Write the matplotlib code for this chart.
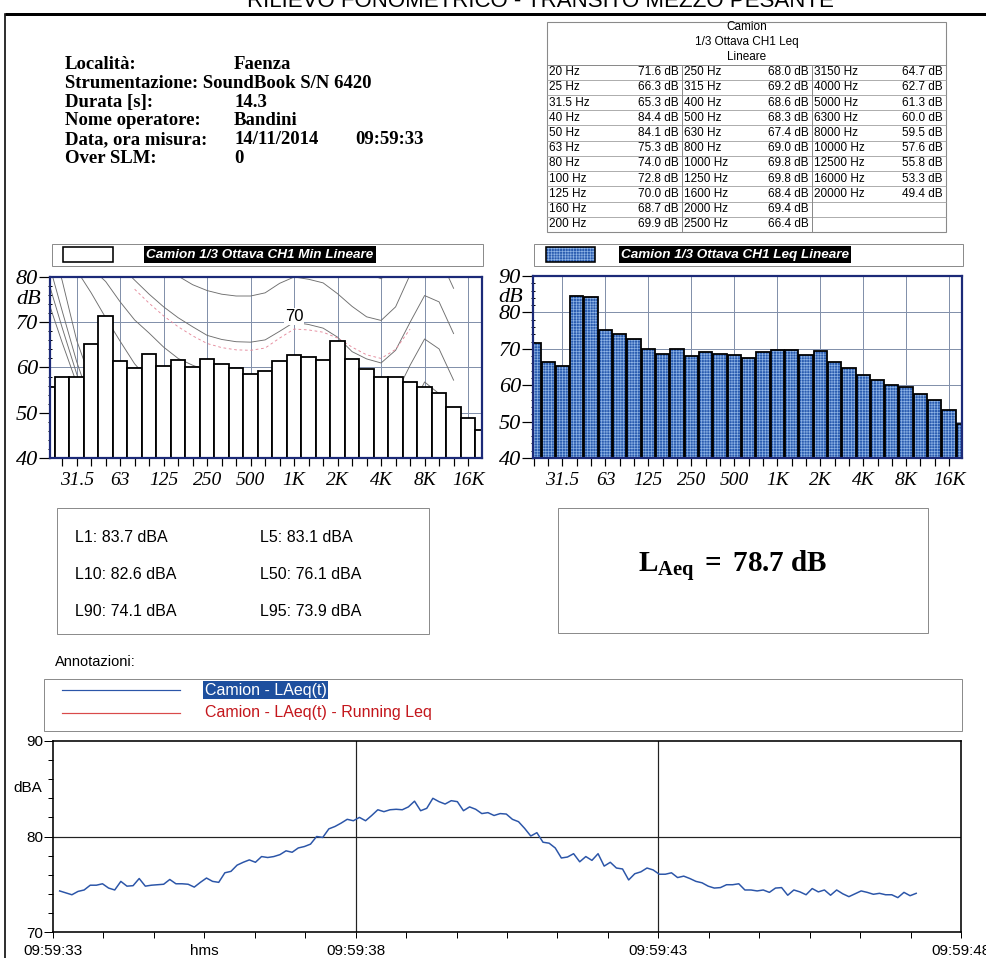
import matplotlib
matplotlib.use("Agg")
import matplotlib.pyplot as plt
import numpy as np
from matplotlib import font_manager
from matplotlib.patches import Rectangle
from matplotlib.ticker import FixedLocator, MultipleLocator

W, H = 986, 958
PT = 0.72  # points per pixel at 100 dpi

SERIF = "Liberation Serif"
SANS = "Liberation Sans"
_names = {f.name for f in font_manager.fontManager.ttflist}
NARROW = "Liberation Sans Narrow" if "Liberation Sans Narrow" in _names else SANS

NAVY = "#1c2a78"
GRID = "#8391ab"
ISO_GREY = "#6e6e6e"
BOX_GREY = "#8c8c8c"
BAR_BLUE = "#2a5cb0"
CHECK_LIGHT = "#8fb4e6"
CHECKER = "++++++"

plt.rcParams["hatch.linewidth"] = 0.65 * PT
plt.rcParams["mathtext.fontset"] = "custom"
plt.rcParams["mathtext.rm"] = SERIF
plt.rcParams["mathtext.bf"] = SERIF + ":bold"
plt.rcParams["mathtext.it"] = SERIF + ":italic"

# ---------------- data

TITLE = "RILIEVO FONOMETRICO - TRANSITO MEZZO PESANTE"
INFO_LABELS = ["Località:", "Strumentazione: SoundBook S/N 6420", "Durata [s]:",
               "Nome operatore:", "Data, ora misura:", "Over SLM:"]
INFO_VALUES = ["Faenza", "", "14.3", "Bandini", "14/11/2014", "0"]
INFO_TIME = "09:59:33"

BANDS = [20, 25, 31.5, 40, 50, 63, 80, 100, 125, 160, 200, 250, 315, 400, 500, 630,
         800, 1000, 1250, 1600, 2000, 2500, 3150, 4000, 5000, 6300, 8000, 10000,
         12500, 16000, 20000]
LEQ = [71.6, 66.3, 65.3, 84.4, 84.1, 75.3, 74.0, 72.8, 70.0, 68.7, 69.9, 68.0, 69.2,
       68.6, 68.3, 67.4, 69.0, 69.8, 69.8, 68.4, 69.4, 66.4, 64.7, 62.7, 61.3, 60.0,
       59.5, 57.6, 55.8, 53.3, 49.4]
LEQ_MIN = [55.7, 57.9, 57.9, 65.2, 71.4, 61.5, 59.9, 63.0, 60.3, 61.7, 60.0, 61.9,
           60.8, 59.9, 58.6, 59.2, 61.4, 62.8, 62.3, 61.7, 65.8, 61.9, 59.7, 58.0,
           58.0, 56.8, 55.7, 54.4, 51.2, 48.8, 46.2]
OCTAVE_IDX = [2, 5, 8, 11, 14, 17, 20, 23, 26, 29]
OCTAVE_LABELS = ["31.5", "63", "125", "250", "500", "1K", "2K", "4K", "8K", "16K"]

# equal loudness contours, dB per band from 20 Hz to 12.5 kHz
ISO_10 = [75.0, 65.5, 56.5, 45.5, 36.0, 28.5, 23.0, 19.0, 16.0, 14.0, 12.6, 11.5, 10.8,
          10.3, 10.0, 10.2, 10.5, 10.0, 9.6, 8.8, 6.6, 3.6, 1.8, 1.0, 4.0, 10.5, 16.8,
          14.2, 7.5]
ISO_20 = [79.5, 68.8, 58.6, 48.5, 40.5, 34.5, 30.0, 27.0, 24.8, 23.2, 22.0, 21.2, 20.6,
          20.2, 20.0, 20.2, 20.5, 20.0, 19.6, 18.8, 16.6, 13.6, 11.8, 11.0, 14.0, 20.5,
          26.8, 24.2, 17.5]
ISO_30 = [84.0, 72.5, 61.3, 52.0, 45.0, 40.0, 36.5, 34.0, 32.2, 31.0, 30.4, 29.9, 29.5,
          29.2, 29.1, 29.3, 29.7, 30.0, 29.6, 28.8, 26.6, 23.6, 21.8, 21.0, 24.0, 30.5,
          36.8, 34.2, 27.5]
ISO_40 = [90.0, 79.2, 66.0, 57.0, 52.0, 48.5, 45.5, 43.5, 42.0, 41.0, 40.2, 39.6, 39.2,
          38.9, 38.8, 39.0, 39.5, 40.0, 39.6, 38.8, 36.6, 33.6, 31.8, 31.0, 34.0, 40.5,
          46.8, 44.2, 37.5]
ISO_50 = [91.0, 86.5, 81.5, 76.5, 71.0, 65.8, 60.8, 57.2, 54.2, 52.0, 50.6, 49.6, 49.0,
          48.6, 48.5, 48.8, 49.4, 50.0, 49.6, 48.8, 46.6, 43.6, 41.8, 41.0, 44.0, 50.5,
          56.8, 54.2, 47.5]
ISO_60 = [98.0, 93.0, 88.0, 82.0, 79.0, 74.5, 70.5, 67.6, 64.5, 62.0, 60.5, 59.3, 58.6,
          58.0, 57.8, 58.2, 59.0, 60.0, 59.6, 58.8, 56.6, 53.6, 51.8, 51.0, 54.0, 60.5,
          66.3, 64.1, 57.2]
ISO_70 = [105.0, 100.0, 95.0, 90.5, 86.5, 82.5, 79.3, 76.2, 73.4, 71.0, 69.0, 67.1, 66.2,
          65.7, 65.6, 66.1, 68.0, 70.0, 69.5, 68.7, 66.7, 63.5, 61.9, 61.0, 63.8, 70.0,
          75.9, 74.5, 67.5]
ISO_80 = [112.0, 108.0, 104.0, 99.5, 95.0, 91.0, 87.5, 85.0, 82.5, 80.2, 78.3, 77.0, 76.2,
          75.8, 75.8, 76.5, 78.6, 80.0, 79.5, 78.7, 76.3, 73.5, 71.2, 70.4, 73.4, 80.5,
          86.0, 84.5, 77.5]
ISO_90 = [118.0, 114.0, 110.0, 106.0, 102.0, 99.0, 96.0, 94.0, 92.0, 90.5, 89.0, 88.0,
          87.2, 86.6, 86.3, 86.8, 88.5, 90.0, 89.5, 88.7, 86.3, 83.2, 81.0, 79.6, 82.5,
          89.5, 95.0, 93.5, 87.5]
CONTOURS = [ISO_10, ISO_20, ISO_30, ISO_40, ISO_50, ISO_60, ISO_70, ISO_80, ISO_90]

# loudness level curve of the spectrum, from 80 Hz (band 6) to 6.3 kHz
LOUDNESS_FIRST = 6
LOUDNESS = [77.3, 74.2, 71.4, 69.0, 67.0, 65.3, 64.4, 63.9, 63.8, 64.3, 66.5, 68.5,
            68.3, 67.8, 66.5, 64.5, 62.8, 62.0, 64.0, 68.5]

STAT_NAMES = ["L1", "L5", "L10", "L50", "L90", "L95"]
STAT_VALUES = [83.7, 83.1, 82.6, 76.1, 74.1, 73.9]
LAEQ = 78.7

TIME_LABELS = ["09:59:33", "09:59:38", "09:59:43", "09:59:48"]
T_FIRST, T_LAST = 0.11, 14.26  # seconds after 09:59:33
LAEQ_T = [74.3, 74.1, 73.9, 74.25, 74.4, 74.9, 74.9, 75.05, 74.6, 74.4,
          75.3, 74.8, 74.85, 75.6, 74.8, 74.9, 74.95, 75.0, 75.5, 75.05,
          75.05, 75.0, 74.7, 75.2, 75.65, 75.3, 75.2, 76.2, 76.35, 77.0,
          77.3, 77.55, 77.3, 77.9, 77.8, 77.9, 78.1, 78.5, 78.35, 78.8,
          78.95, 79.2, 80.0, 79.9, 80.8, 81.05, 81.4, 81.8, 81.65, 82.0,
          81.65, 82.2, 82.8, 82.6, 82.8, 82.85, 82.8, 83.1, 83.7, 82.7,
          82.95, 84.0, 83.65, 83.4, 83.75, 83.65, 82.7, 83.1, 82.85, 82.4,
          82.5,
          82.2, 82.4, 82.35, 81.8, 81.55, 80.85, 80.05, 80.4, 79.4, 79.3,
          78.8, 77.75, 77.85, 78.2, 77.35, 77.9, 77.5, 78.2, 76.9, 77.3,
          76.7, 76.6, 75.45, 76.1, 76.3, 76.7, 76.5, 76.05, 76.05, 76.2,
          75.7, 75.85, 75.6, 75.3, 75.15, 74.8, 74.6, 74.65, 74.95, 74.95,
          75.05, 74.4, 74.4, 74.3, 74.4, 74.15, 74.6, 74.65, 73.85, 74.4,
          74.2, 73.9, 74.55, 74.2, 74.4, 73.85, 74.4, 74.0, 73.7, 74.0,
          74.3, 74.15, 73.95, 74.05, 73.9, 73.9, 73.6, 74.15, 73.8, 74.05]

# ---------------- page

fig = plt.figure(figsize=(W / 100, H / 100), dpi=100)
bg = fig.add_axes([0, 0, 1, 1])
bg.set_xlim(0, W)
bg.set_ylim(H, 0)
bg.axis("off")


def rect_px(x0, y0, x1, y1):
    return [x0 / W, 1 - y1 / H, (x1 - x0) / W, (y1 - y0) / H]


def frame(x0, y0, x1, y1, ec=BOX_GREY, lw=1.0, fc="none", **kw):
    bg.add_patch(Rectangle((x0, y0), x1 - x0, y1 - y0, facecolor=fc, edgecolor=ec,
                           linewidth=lw * PT, **kw))


# page header, only its lower part fits on the sheet
bg.text(540, 6.5, TITLE, ha="center", va="baseline", fontsize=16, family=SANS)
bg.plot([5, W], [14, 14], color="black", lw=3 * PT, solid_capstyle="butt")
bg.plot([5, 5], [14, H], color="black", lw=1.6 * PT)

# measurement info
for i, (lab, val) in enumerate(zip(INFO_LABELS, INFO_VALUES)):
    y = 69.3 + i * 18.7
    bg.text(65, y, lab, va="baseline", family=SERIF, weight="bold", fontsize=13.5)
    bg.text(234, y, val, va="baseline", family=SERIF, weight="bold", fontsize=13.5)
bg.text(355, 69.3 + 4 * 18.7, INFO_TIME, va="baseline", family=SERIF, weight="bold",
        fontsize=13.5)

# spectrum table
TX = [547, 682, 812, 946]
TY0, TH0, TY1 = 22, 64.5, 232
ROWS = 11
row_h = (TY1 - TH0) / ROWS
frame(TX[0], TY0, TX[-1], TY1, ec="#8a8a8a", lw=1.1)
bg.plot([TX[0], TX[-1]], [TH0, TH0], color="#8a8a8a", lw=1.0 * PT)
for r in range(1, ROWS):
    bg.plot([TX[0], TX[-1]], [TH0 + r * row_h] * 2, color="#9a9a9a", lw=0.8 * PT)
for cx in TX[1:-1]:
    bg.plot([cx, cx], [TH0, TY1], color="#8a8a8a", lw=1.0 * PT)
for y, s in zip([27.3, 41.7, 56.7], ["Camion", "1/3 Ottava CH1 Leq", "Lineare"]):
    bg.text((TX[0] + TX[-1]) / 2, y, s, ha="center", va="center", family=NARROW,
            fontsize=8.5)
for k, (f, v) in enumerate(zip(BANDS, LEQ)):
    col, row = divmod(k, ROWS)
    y = TH0 + (row + 0.5) * row_h
    bg.text(TX[col] + 2, y, f"{f:g} Hz", va="center", family=NARROW, fontsize=8.5)
    bg.text(TX[col + 1] - 3, y, f"{v:.1f} dB", ha="right", va="center", family=NARROW,
            fontsize=8.5)

# chart legends
LEG_FONT = dict(color="white", weight="bold", style="italic", family=SANS, fontsize=9.7,
                va="center", bbox=dict(boxstyle="square,pad=0.18", fc="black", ec="none"))
frame(52, 244, 483, 266)
frame(63, 247, 113, 262, ec="black", lw=1.6, fc="white")
bg.text(146, 254.5, "Camion 1/3 Ottava CH1 Min Lineare", **LEG_FONT)
frame(534, 244, 963, 266)
frame(546, 247, 595, 262, ec=CHECK_LIGHT, lw=0, fc=BAR_BLUE, hatch=CHECKER)
frame(546, 247, 595, 262, ec="black", lw=1.6)
bg.text(621, 254.5, "Camion 1/3 Ottava CH1 Leq Lineare", **LEG_FONT)


def spectrum_axes(box, ytop, xlim):
    ax = fig.add_axes(rect_px(*box))
    ax.set_xlim(*xlim)
    ax.set_ylim(40, ytop)
    ax.set_xticks(OCTAVE_IDX, OCTAVE_LABELS, family=SERIF, style="italic", fontsize=14)
    ax.xaxis.set_minor_locator(
        FixedLocator([i for i in range(len(BANDS)) if i not in OCTAVE_IDX]))
    yt = list(range(40, ytop + 1, 10))
    ax.set_yticks(yt, [str(v) for v in yt], family=SERIF, style="italic", fontsize=16)
    ax.yaxis.set_minor_locator(MultipleLocator(2))
    ax.tick_params(axis="x", which="both", length=8 * PT, width=1.2 * PT, pad=6 * PT)
    ax.tick_params(axis="y", which="major", length=11 * PT, width=1.2 * PT, pad=1 * PT)
    ax.tick_params(axis="y", which="minor", length=5 * PT, width=1.0 * PT,
                   direction="inout")
    ax.grid(True, which="major", color=GRID, linewidth=1.0 * PT)
    ax.set_axisbelow(True)
    for s in ax.spines.values():
        s.set_color(NAVY)
        s.set_linewidth(2.2 * PT)
        s.set_zorder(5)
    return ax


idx = np.arange(len(BANDS))

# minimum spectrum with loudness contours
ax1 = spectrum_axes((50, 277, 482, 458), 80, (0.16, 29.96))
for curve in CONTOURS:
    ax1.plot(np.arange(len(curve)), curve, color=ISO_GREY, lw=0.9 * PT, zorder=1.5)
ax1.plot(np.arange(len(LOUDNESS)) + LOUDNESS_FIRST, LOUDNESS, color="#e58a9c",
         lw=0.9 * PT, dashes=(3, 3), zorder=1.5)
ax1.text(17, 71.2, "70", ha="center", va="center", family=SANS, fontsize=12,
         bbox=dict(boxstyle="square,pad=0.05", fc="white", ec="none"), zorder=1.6)
ax1.bar(idx, LEQ_MIN, width=1.0, color="white", edgecolor="black",
        linewidth=1.8 * PT, zorder=2)
bg.text(29, 300, "dB", ha="center", va="center", family=SERIF, style="italic",
        fontsize=16)

# Leq spectrum
ax2 = spectrum_axes((533, 276, 962, 458), 90, (-0.06, 29.9))
ax2.bar(idx, LEQ, width=0.93, color=BAR_BLUE, edgecolor=CHECK_LIGHT, hatch=CHECKER,
        linewidth=0, zorder=2)
ax2.bar(idx, LEQ, width=0.93, fill=False, edgecolor="black", linewidth=1.8 * PT,
        zorder=2.1)
bg.text(511, 297, "dB", ha="center", va="center", family=SERIF, style="italic",
        fontsize=16)

# percentile levels
frame(57, 508, 429, 634)
for k, (name, val) in enumerate(zip(STAT_NAMES, STAT_VALUES)):
    row, col = divmod(k, 2)
    bg.text(75 + col * 185, 537 + row * 37.5, f"{name}: {val:.1f} dBA", va="center",
            family=NARROW, fontsize=11.5)

frame(558, 508, 928, 633)
bg.text(733, 566, rf"$\mathbf{{L_{{Aeq}}\ =\ {LAEQ:.1f}\ dB}}$", ha="center",
        va="center", fontsize=21)

bg.text(55, 662, "Annotazioni:", va="center", family=SANS, fontsize=10.5)

# time history legend
frame(44, 679, 962, 731)
bg.plot([62, 180], [690, 690], color="#2b55a8", lw=1.2 * PT)
bg.plot([62, 180], [713, 713], color="#d94a4a", lw=1.2 * PT)
bg.text(205, 690, "Camion - LAeq(t)", va="center", color="white", family=SANS,
        fontsize=11.5, bbox=dict(boxstyle="square,pad=0.1", fc="#1d4f9e", ec="none"))
bg.text(205, 713, "Camion - LAeq(t) - Running Leq", va="center", color="#c4161c",
        family=SANS, fontsize=11.5)

# LAeq(t) time history
ax3 = fig.add_axes(rect_px(53, 741, 961, 932))
t = np.linspace(T_FIRST, T_LAST, len(LAEQ_T))
ax3.plot(t, LAEQ_T, color="#2b55a8", lw=1.5 * PT, zorder=3)
ax3.set_xlim(0, 15)
ax3.set_ylim(70, 90)
ax3.set_xticks([0, 5, 10, 15], TIME_LABELS, family=SANS, fontsize=11)
ax3.xaxis.set_minor_locator(MultipleLocator(5 / 6))
ax3.set_yticks([70, 80, 90], ["70", "80", "90"], family=SANS, fontsize=11)
ax3.yaxis.set_minor_locator(MultipleLocator(2))
ax3.tick_params(axis="x", which="both", length=6 * PT, width=1.0 * PT, pad=6 * PT)
ax3.tick_params(axis="y", which="major", length=9 * PT, width=1.0 * PT, pad=1 * PT)
ax3.tick_params(axis="y", which="minor", length=5 * PT, width=1.0 * PT)
ax3.axhline(80, color="#222222", lw=1.2 * PT, zorder=1)
for tv in (5, 10):
    ax3.axvline(tv, color="#222222", lw=1.2 * PT, zorder=1)
for s in ax3.spines.values():
    s.set_linewidth(1.6 * PT)
ax3.annotate("hms", xy=(2.5, 0), xycoords=("data", "axes fraction"),
             xytext=(0, -12 * PT), textcoords="offset points", ha="center", va="top",
             family=SANS, fontsize=11)
bg.text(28, 788, "dBA", ha="center", va="center", family=SANS, fontsize=11)

fig.savefig("out.png", dpi=100)
